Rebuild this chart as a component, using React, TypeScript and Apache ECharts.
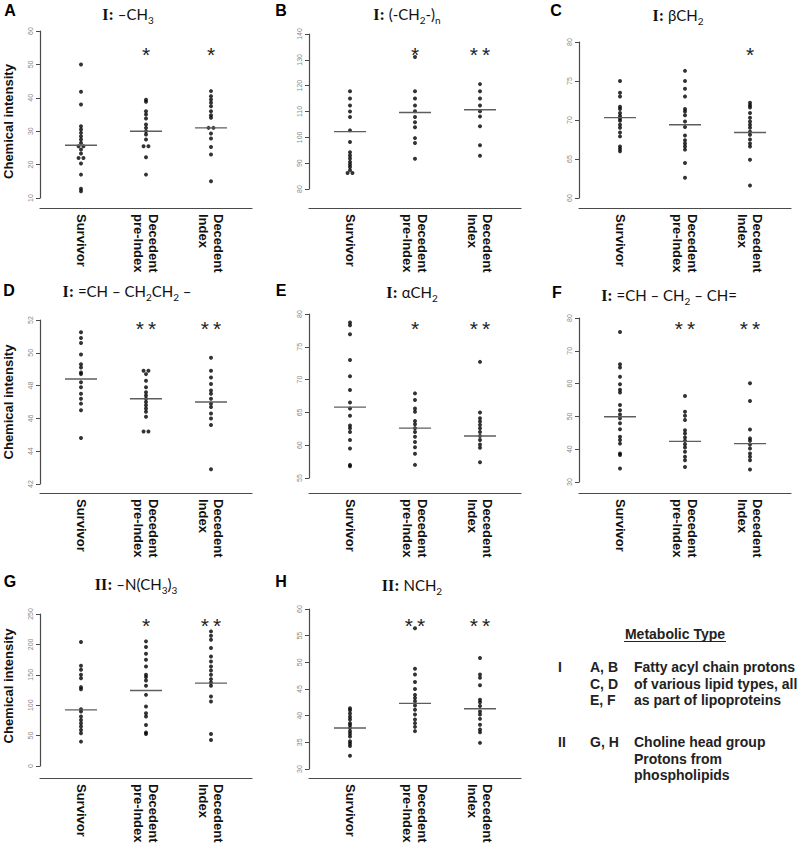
import React, { useEffect, useRef } from 'react';
import * as echarts from 'echarts';

// ---------- categories ----------
const groupLabels = ['Survivor', 'Decedent\npre-Index', 'Decedent\nIndex'];
const groupPositions = [1, 2, 3];

// ---------- Panel A: I: -CH3 ----------
const aSurvivor = [50, 41.8, 38, 31.5, 30.5, 29.5, 28.5, 27.5, 26.5, 25.5, 25.5, 24.5, 23.3, 22, 22, 20.3, 17, 12.8, 12];
const aPreIndex = [39.4, 38.8, 36, 35, 33.8, 32, 31, 30, 29, 27.5, 25.5, 25.5, 22.2, 17];
const aIndex = [42, 40.5, 39.5, 38.5, 37.5, 36, 34.8, 34, 31, 31, 29.3, 27.8, 25.3, 23, 15];
const aMedians = [25.8, 30, 31];
const aSig = ['', '*', '*'];
const aTicks = [10, 60, 10];

// ---------- Panel B: I: (-CH2-)n ----------
const bSurvivor = [117.8, 115, 112.3, 110, 107.9, 102.7, 98.2, 94.2, 93, 91.8, 90.5, 89.5, 88.5, 87.3, 86.2, 86.2];
const bPreIndex = [131.1, 117.8, 115, 112.3, 110.1, 107.9, 105.8, 103.9, 99.7, 97.8, 91.7];
const bIndex = [120.6, 117.8, 115, 112.3, 110.1, 108.1, 104.3, 96.9, 92.9];
const bMedians = [102.2, 109.6, 110.7];
const bSig = ['', '*', '**'];
const bTicks = [80, 140, 10];

// ---------- Panel C: I: bCH2 ----------
const cSurvivor = [75, 73.5, 73, 71.7, 71.4, 70.9, 70.5, 70.2, 69.9, 69.4, 69, 68.4, 67.9, 66.6, 66.3, 66];
const cPreIndex = [76.3, 75, 74, 73, 71.4, 71.1, 70.6, 69.8, 69.1, 68, 67.4, 67, 66.6, 66.2, 64.5, 62.6];
const cIndex = [72.2, 71.9, 71.6, 70.9, 70.3, 69.8, 69.4, 69, 68.5, 68.1, 67.5, 67, 66.6, 64.9, 61.6];
const cMedians = [70.3, 69.4, 68.4];
const cSig = ['', '', '*'];
const cTicks = [60, 80, 5];

// ---------- Panel D: I: =CH - CH2CH2 - ----------
const dSurvivor = [51.25, 50.9, 50.6, 49.9, 49.3, 49.1, 48.8, 48.7, 48.2, 47.9, 47.5, 47.2, 46.9, 46.5, 44.8];
const dPreIndex = [48.9, 48.9, 48.7, 48.3, 47.9, 47.6, 47.4, 47.2, 47, 46.8, 46.6, 46.4, 46.1, 45.2, 45.2];
const dIndex = [49.7, 48.9, 48.5, 48.1, 47.7, 47.5, 47.2, 46.9, 46.7, 46.3, 46, 45.6, 42.9];
const dMedians = [48.4, 47.2, 47.0];
const dSig = ['', '**', '**'];
const dTicks = [42, 52, 2];

// ---------- Panel E: I: aCH2 ----------
const eSurvivor = [78.7, 78.3, 76.9, 73, 70.5, 68.4, 66.5, 65.6, 64.5, 63, 62.6, 62, 60.8, 59.5, 57, 56.8];
const ePreIndex = [67.9, 66.9, 65.6, 65.1, 63.7, 63.2, 62.6, 62, 61.3, 60.5, 59.7, 58.7, 57];
const eIndex = [72.7, 65, 64.1, 63.6, 63.1, 62.6, 62, 61.4, 60.8, 60.1, 59.6, 57.4, 53.8];
const eMedians = [65.8, 62.6, 61.4];
const eSig = ['', '*', '**'];
const eTicks = [55, 80, 5];

// ---------- Panel F: I: =CH - CH2 - CH= ----------
const fSurvivor = [75.7, 65.9, 64.9, 62.1, 59.8, 58.1, 57.3, 53.5, 51.9, 50.6, 49.4, 47.9, 46.1, 43.8, 42.8, 41.7, 38.7, 38.2, 34.1];
const fPreIndex = [56.2, 51.4, 50.2, 48.9, 45.8, 44.8, 43.6, 42.6, 41.5, 40.5, 39.2, 37.7, 36.6, 34.6];
const fIndex = [60.1, 54.7, 46, 43.3, 42.6, 41.4, 40.2, 38.7, 37.7, 36.6, 33.8];
const fMedians = [49.9, 42.4, 41.7];
const fSig = ['', '**', '**'];
const fTicks = [30, 80, 10];

// ---------- Panel G: II: -N(CH3)3 ----------
const gSurvivor = [203.8, 164.8, 158.2, 150, 144.5, 129.7, 126.4, 93.4, 89.6, 81.3, 75.8, 70.3, 64.8, 59.3, 53.8, 40.1];
const gPreIndex = [205, 195.6, 184.6, 174.7, 163.7, 150, 146.2, 140.7, 131.9, 117, 97.8, 86.8, 81.3, 67.6, 55, 52.7];
const gIndex = [221.4, 214.3, 207.7, 194, 180.2, 172, 163.7, 157.1, 150, 142.9, 137.4, 131.9, 114.3, 106, 52.7, 42.9];
const gMedians = [92.3, 124.2, 136.3];
const gSig = ['', '*', '**'];
const gTicks = [0, 250, 50];

// ---------- Panel H: II: NCH2 ----------
const hSurvivor = [41.4, 41, 40.4, 39.8, 39.3, 38.6, 38.2, 37.7, 37.1, 36.6, 36.1, 35.2, 34.8, 34.3, 32.5];
const hPreIndex = [56.4, 48.8, 47.7, 46.3, 45, 43.9, 43.3, 42.7, 41.9, 41.1, 40.2, 39.3, 38.6, 37.9, 37.1];
const hIndex = [50.8, 47.7, 47.1, 45.7, 43, 42.5, 41.8, 40.8, 40.2, 39.4, 38.3, 37.4, 36.9, 34.9];
const hMedians = [37.7, 42.3, 41.3];
const hSig = ['', '**', '**'];
const hTicks = [30, 60, 5];

// ---------- titles ----------
const panelLetters = ['A', 'B', 'C', 'D', 'E', 'F', 'G', 'H'];
const panelTitles = [
  '{r|I:} {c|–CH}{s|3}',
  '{r|I:} {c|(-CH}{s|2}{c|-)}{s|n}',
  '{r|I:} {c|βCH}{s|2}',
  '{r|I:} {c|=CH – CH}{s|2}{c|CH}{s|2}{c| –}',
  '{r|I:} {c|αCH}{s|2}',
  '{r|I:} {c|=CH – CH}{s|2}{c| – CH=}',
  '{r|II:} {c|–N(CH}{s|3}{c|)}{s|3}',
  '{r|II:} {c|NCH}{s|2}',
];
const yAxisTitle = 'Chemical intensity';

// ---------- legend text ----------
const legendHeading = 'Metabolic Type';
const legendTypes = ['I', 'II'];
const legendPanels = [['A, B', 'C, D', 'E, F'], ['G, H']];
const legendDescriptions = [
  ['Fatty acyl chain protons', 'of various lipid types, all', 'as part of lipoproteins'],
  ['Choline head group', 'Protons from', 'phospholipids'],
];

const panelData = [
  [aSurvivor, aPreIndex, aIndex, aMedians, aSig, aTicks],
  [bSurvivor, bPreIndex, bIndex, bMedians, bSig, bTicks],
  [cSurvivor, cPreIndex, cIndex, cMedians, cSig, cTicks],
  [dSurvivor, dPreIndex, dIndex, dMedians, dSig, dTicks],
  [eSurvivor, ePreIndex, eIndex, eMedians, eSig, eTicks],
  [fSurvivor, fPreIndex, fIndex, fMedians, fSig, fTicks],
  [gSurvivor, gPreIndex, gIndex, gMedians, gSig, gTicks],
  [hSurvivor, hPreIndex, hIndex, hMedians, hSig, hTicks],
] as any[];

// ---------- layout (pixels) ----------
const colLeft = [40, 309, 579];
const GRID_W = 212;
const UNIT = 65; // px per category step
const X_MIN = 1 - 41 / UNIT;
const X_MAX = X_MIN + GRID_W / UNIT;
const MEDIAN_HALF = 16 / UNIT;
const STACK_STEP = 0.075;
// [col, gridTop, gridBottom, axisLineY]
const panelBoxes = [
  [0, 31, 198, 208],
  [1, 34, 189, 208],
  [2, 42, 198, 208],
  [0, 320, 484, 493],
  [1, 314, 478, 493],
  [2, 318, 482, 493],
  [0, 614, 766, 778],
  [1, 609, 769, 778],
];
const letterPos = [[10, 10], [281, 10], [556, 10], [9, 290.5], [281, 290.5], [557, 292], [10, 581], [281, 581]];
const titlePos = [[128, 14], [407, 14], [678, 15], [127, 291], [412, 292], [669, 295], [136, 584], [412, 585]];
const starRowY = [54, 328.5, 625];
const yTitlePos = [[8, 121.5], [8, 402], [8, 686]];

function stackPoints(values: number[], cat: number) {
  const counts = new Map<number, number>();
  values.forEach((v) => counts.set(v, (counts.get(v) || 0) + 1));
  const seen = new Map<number, number>();
  return values.map((v) => {
    const n = counts.get(v) || 1;
    const k = seen.get(v) || 0;
    seen.set(v, k + 1);
    return [cat + (k - (n - 1) / 2) * STACK_STEP, v];
  });
}

function buildOption() {
  const grid: any[] = [];
  const xAxis: any[] = [];
  const yAxis: any[] = [];
  const series: any[] = [];
  const graphic: any[] = [];
  const axisColor = '#4a4a4a';

  panelData.forEach((p, i) => {
    const [surv, pre, idx, med, sig, ticks] = p;
    const [col, top, bottom, lineY] = panelBoxes[i];
    const left = colLeft[col];
    grid.push({ left, top, width: GRID_W, height: bottom - top, outerBoundsMode: 'none', containLabel: false });
    xAxis.push({
      gridIndex: i,
      type: 'value',
      min: X_MIN,
      max: X_MAX,
      offset: lineY - bottom,
      axisLine: { show: true, onZero: false, lineStyle: { color: axisColor, width: 1.2 } },
      axisTick: { show: false },
      splitLine: { show: false },
      axisLabel: {
        customValues: groupPositions,
        formatter: (v: number) => groupLabels[Math.round(v) - 1] || '',
        rotate: -90,
        margin: 6,
        fontSize: 13,
        lineHeight: 15,
        fontWeight: 'bold',
        fontFamily: 'Liberation Sans',
        color: '#111',
      },
    });
    yAxis.push({
      gridIndex: i,
      type: 'value',
      min: ticks[0],
      max: ticks[1],
      interval: ticks[2],
      axisLine: { show: true, onZero: false, lineStyle: { color: axisColor, width: 1.2 } },
      axisTick: { show: true, length: 4, lineStyle: { color: axisColor, width: 1 } },
      splitLine: { show: false },
      axisLabel: { rotate: 90, fontSize: 7, color: '#888', margin: 6, fontFamily: 'Liberation Sans' },
    });
    const pts = [
      ...stackPoints(surv, 1),
      ...stackPoints(pre, 2),
      ...stackPoints(idx, 3),
    ];
    series.push({
      type: 'scatter',
      xAxisIndex: i,
      yAxisIndex: i,
      data: pts,
      symbol: 'circle',
      symbolSize: 4,
      itemStyle: { color: '#000' },
      silent: true,
      z: 2,
    });
    med.forEach((m: number, g: number) => {
      const c = groupPositions[g];
      series.push({
        type: 'line',
        xAxisIndex: i,
        yAxisIndex: i,
        data: [[c - MEDIAN_HALF, m], [c + MEDIAN_HALF, m]],
        symbol: 'none',
        lineStyle: { color: '#5e5e5e', width: 1.4 },
        silent: true,
        z: 3,
      });
    });
    // significance stars
    sig.forEach((s: string, g: number) => {
      if (!s) return;
      const px = left + (groupPositions[g] - X_MIN) * UNIT;
      graphic.push({
        type: 'text',
        x: px,
        y: starRowY[Math.floor(i / 3)],
        style: {
          text: s.split('').join('\u2009'),
          fill: '#222',
          font: '21px "Liberation Sans"',
          textAlign: 'center',
          textVerticalAlign: 'middle',
        },
      });
    });
    // panel letter
    graphic.push({
      type: 'text',
      x: letterPos[i][0],
      y: letterPos[i][1],
      style: {
        text: panelLetters[i],
        fill: '#000',
        font: 'bold 16px "Liberation Sans"',
        textAlign: 'center',
        textVerticalAlign: 'middle',
      },
    });
    // title
    graphic.push({
      type: 'text',
      x: titlePos[i][0],
      y: titlePos[i][1],
      style: {
        text: panelTitles[i],
        fill: '#111',
        fontSize: 15,
        fontFamily: 'Lato',
        textAlign: 'center',
        textVerticalAlign: 'middle',
        rich: {
          r: { fontFamily: 'Liberation Serif', fontWeight: 'bold', fontSize: 16, lineHeight: 22, fill: '#111' },
          c: { fontFamily: 'Lato', fontSize: 15, lineHeight: 22, fill: '#111' },
          s: { fontFamily: 'Lato', fontSize: 10, verticalAlign: 'bottom', fill: '#111' },
        },
      },
    });
  });

  yTitlePos.forEach(([x, y]) => {
    graphic.push({
      type: 'text',
      x,
      y,
      rotation: Math.PI / 2,
      style: {
        text: yAxisTitle,
        fill: '#111',
        font: 'bold 13px "Liberation Sans"',
        textAlign: 'center',
        textVerticalAlign: 'middle',
      },
    });
  });

  // legend block
  const legFont = 'bold 14px "Liberation Sans"';
  graphic.push({
    type: 'text',
    x: 675,
    y: 634,
    style: { text: legendHeading, fill: '#222', font: legFont, textAlign: 'center', textVerticalAlign: 'middle' },
  });
  graphic.push({
    type: 'line',
    shape: { x1: 624, y1: 641.5, x2: 726, y2: 641.5 },
    style: { stroke: '#222', lineWidth: 1.2 },
  });
  const blockTop = [667, 742];
  const lineGap = 16.7;
  legendTypes.forEach((t, k) => {
    graphic.push({
      type: 'text',
      x: 558,
      y: blockTop[k],
      style: { text: t, fill: '#222', font: legFont, textAlign: 'left', textVerticalAlign: 'middle' },
    });
    legendPanels[k].forEach((pl, j) => {
      graphic.push({
        type: 'text',
        x: 590,
        y: blockTop[k] + j * lineGap,
        style: { text: pl, fill: '#222', font: legFont, textAlign: 'left', textVerticalAlign: 'middle' },
      });
    });
    legendDescriptions[k].forEach((d, j) => {
      graphic.push({
        type: 'text',
        x: 634,
        y: blockTop[k] + j * lineGap,
        style: { text: d, fill: '#222', font: legFont, textAlign: 'left', textVerticalAlign: 'middle' },
      });
    });
  });

  return {
    animation: false,
    backgroundColor: '#ffffff',
    grid,
    xAxis,
    yAxis,
    series,
    graphic,
  };
}

export default function App() {
  const ref = useRef<HTMLDivElement>(null);
  useEffect(() => {
    if (!ref.current) return;
    const chart = echarts.init(ref.current, undefined, { renderer: 'svg' });
    chart.setOption(buildOption() as any);
    return () => chart.dispose();
  }, []);
  return (
    <div
      ref={ref}
      style={{ position: 'absolute', left: 0, top: 0, width: 800, height: 846, background: '#fff' }}
    />
  );
}
